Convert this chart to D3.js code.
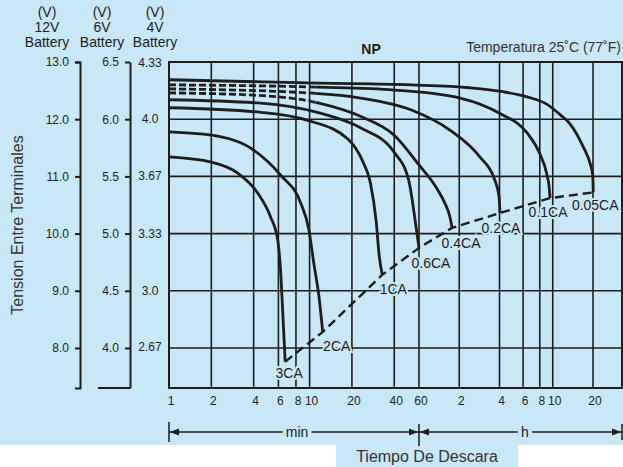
<!DOCTYPE html>
<html>
<head>
<meta charset="utf-8">
<script src="https://cdn.jsdelivr.net/npm/d3@7"></script>
<style>
  body { margin: 0; background: #fff; }
  svg { display: block; font-family: "Liberation Sans", Arial, sans-serif; }
</style>
</head>
<body>
<div id="chart"></div>
<script>
// discharge curves, time in minutes, voltage on the 12V scale
const t3CA = [1, 2, 3.07, 4.27, 5.28, 5.93, 6.2, 6.45, 6.7];
const v3CA = [11.34, 11.25, 11.06, 10.71, 10.29, 9.89, 9.4, 8.6, 7.76];
const t2CA = [1, 2, 4, 6.23, 8.66, 9.9, 10.7, 11.67, 12.4];
const v2CA = [11.78, 11.72, 11.46, 11.02, 10.53, 10.06, 9.49, 8.89, 8.28];
const t1CA = [1, 4.5, 9.7, 18.8, 24, 27, 29.8, 31.3, 32.9];
const v1CA = [12.2, 12.12, 11.98, 11.65, 11.25, 10.9, 10.2, 9.6, 9.28];
const t06CA = [1, 4.5, 11.7, 23, 40, 50.6, 57.6, 60];
const v06CA = [12.34, 12.28, 12.11, 11.85, 11.42, 10.94, 10.06, 9.75];
const t04CA = [1, 4, 11.7, 23, 40, 60, 82, 95, 102, 106];
const v04CA = [12.46, 12.42, 12.28, 12.05, 11.72, 11.2, 10.78, 10.5, 10.3, 10.1];
const t02CA = [1, 9.7, 23, 53, 102, 171, 220, 238, 242];
const v02CA = [12.53, 12.46, 12.37, 12.16, 11.81, 11.34, 10.95, 10.65, 10.36];
const t01CA = [1, 11.5, 40, 122, 242, 386, 480, 540, 565, 573];
const v01CA = [12.6, 12.56, 12.51, 12.37, 12.1, 11.76, 11.4, 11.05, 10.8, 10.62];
const t005CA = [1, 11.5, 53, 144, 255, 386, 544, 681, 807, 1012, 1150, 1195, 1205];
const v005CA = [12.69, 12.63, 12.6, 12.55, 12.48, 12.39, 12.26, 12.08, 11.92, 11.52, 11.2, 11.02, 10.72];

const rateNames = ["3CA", "2CA", "1CA", "0.6CA", "0.4CA", "0.2CA", "0.1CA", "0.05CA"];
const dashedStart = [false, false, false, false, true, true, true, false];

const v12Ticks = [13, 12, 11, 10, 9, 8];
const v6Ticks = [6.5, 6, 5.5, 5, 4.5, 4];
const v4Labels = ["4.33", "4.0", "3.67", "3.33", "3.0", "2.67"];
const gridV = [12, 11, 10, 9, 8];
const timeTicks = [1, 2, 4, 6, 8, 10, 20, 40, 60, 120, 240, 360, 480, 600, 1200];
const timeLabels = ["1", "2", "4", "6", "8", "10", "20", "40", "60", "2", "4", "6", "8", "10", "20"];
const batteries = ["12V", "6V", "4V"];

const width = 623, height = 467;
const bg = "#c8e8f8", ink = "#1d1d1b", grey = "#333";

const svg = d3.select("#chart").append("svg")
  .attr("width", width).attr("height", height);

svg.append("rect").attr("width", width).attr("height", 445).attr("fill", bg);
svg.append("rect").attr("x", 336).attr("y", 445).attr("width", 182).attr("height", 22).attr("fill", bg);

const x = d3.scaleLog().domain([1, 60, 1200]).range([169, 419, 593]);
const y = d3.scaleLinear().domain([7.3, 13]).range([388, 62]);
const y6 = d3.scaleLinear().domain([7.3 / 2, 6.5]).range([388, 62]);
const plotRight = 622;

// grid
const grid = svg.append("g").attr("stroke", ink).attr("stroke-width", 1.6);
grid.selectAll(".gv").data(timeTicks).join("line")
  .attr("x1", d => x(d)).attr("x2", d => x(d))
  .attr("y1", y(13)).attr("y2", y(7.3));
grid.selectAll(".gh").data(gridV).join("line")
  .attr("x1", x(1)).attr("x2", plotRight)
  .attr("y1", d => y(d)).attr("y2", d => y(d));
svg.append("rect")
  .attr("x", x(1)).attr("y", y(13))
  .attr("width", plotRight - x(1)).attr("height", y(7.3) - y(13))
  .attr("fill", "none").attr("stroke", ink).attr("stroke-width", 2);

// left axes
function styleAxis(g) {
  g.select(".domain").attr("stroke", ink).attr("stroke-width", 2);
  g.selectAll(".tick line").attr("stroke", ink).attr("stroke-width", 2);
  g.selectAll(".tick text").attr("fill", ink).attr("font-size", 12)
    .attr("font-family", "Liberation Sans, Arial, sans-serif");
}
svg.append("g").attr("transform", "translate(80,0)")
  .call(d3.axisLeft(y).tickValues(v12Ticks).tickFormat(d3.format(".1f"))
    .tickSize(5).tickSizeOuter(5).tickPadding(6))
  .call(styleAxis);
svg.append("g").attr("transform", "translate(130,0)")
  .call(d3.axisLeft(y6).tickValues(v6Ticks).tickFormat(d3.format(".1f"))
    .tickSize(5).tickSizeOuter(0).tickPadding(6))
  .call(styleAxis);
svg.append("line").attr("x1", 98).attr("x2", 130)
  .attr("y1", y(7.3)).attr("y2", y(7.3))
  .attr("stroke", ink).attr("stroke-width", 2);

svg.append("g").selectAll("text").data(v4Labels).join("text")
  .attr("x", 150).attr("y", d => y(+d * 3)).attr("dy", "0.34em")
  .attr("text-anchor", "middle").attr("font-size", 12).attr("fill", ink)
  .text(d => d);

// headers
const hx = [47, 102, 155];
const head = svg.append("g").attr("font-size", 14).attr("fill", ink).attr("text-anchor", "middle");
batteries.forEach((b, i) => {
  head.append("text").attr("x", hx[i]).attr("y", 17).text("(V)");
  head.append("text").attr("x", hx[i]).attr("y", 32).text(b);
  head.append("text").attr("x", hx[i]).attr("y", 47).text("Battery");
});

svg.append("text").attr("transform", "translate(23,225) rotate(-90)")
  .attr("text-anchor", "middle").attr("font-size", 16).attr("fill", grey)
  .text("Tension Entre Terminales");

svg.append("text").attr("x", 371).attr("y", 54).attr("text-anchor", "middle")
  .attr("font-size", 14).attr("font-weight", "bold").attr("fill", ink).text("NP");
svg.append("text").attr("x", 621).attr("y", 52).attr("text-anchor", "end")
  .attr("font-size", 14).attr("fill", grey).text("Temperatura 25˚C (77˚F)");

// x tick labels
svg.append("g").selectAll("text").data(timeTicks).join("text")
  .attr("x", d => x(d) + 2).attr("y", 405)
  .attr("text-anchor", "middle").attr("font-size", 12).attr("fill", ink)
  .text((d, i) => timeLabels[i]);

// min / h span
const ay = 432;
const span = svg.append("g").attr("stroke", ink).attr("stroke-width", 1.5);
span.append("line").attr("x1", x(1)).attr("x2", plotRight).attr("y1", ay).attr("y2", ay);
span.append("line").attr("x1", x(1)).attr("x2", x(1)).attr("y1", ay - 10).attr("y2", ay + 10);
span.append("line").attr("x1", x(60)).attr("x2", x(60)).attr("y1", ay - 8).attr("y2", ay + 14);
span.append("line").attr("x1", plotRight).attr("x2", plotRight).attr("y1", ay - 8).attr("y2", ay + 8);
const arrows = [[x(1) + 1, -1], [x(60) - 1, 1], [x(60) + 1, -1], [plotRight - 1, 1]];
svg.append("g").selectAll("path").data(arrows).join("path")
  .attr("d", d => `M${d[0]},${ay}L${d[0] - d[1] * 9},${ay - 3.5}L${d[0] - d[1] * 9},${ay + 3.5}Z`)
  .attr("fill", ink);
const spanText = svg.append("g").attr("font-size", 14).attr("fill", ink)
  .attr("text-anchor", "middle").attr("stroke", bg).attr("stroke-width", 8)
  .attr("paint-order", "stroke");
spanText.append("text").attr("x", 297).attr("y", ay + 5).text("min");
spanText.append("text").attr("x", 525).attr("y", ay + 5).text("h");

svg.append("text").attr("x", 427).attr("y", 462).attr("text-anchor", "middle")
  .attr("font-size", 16).attr("fill", grey).text("Tiempo De Descara");

// curves
const times = [t3CA, t2CA, t1CA, t06CA, t04CA, t02CA, t01CA, t005CA];
const volts = [v3CA, v2CA, v1CA, v06CA, v04CA, v02CA, v01CA, v005CA];
const curves = rateNames.map((name, i) => ({
  name,
  dashed: dashedStart[i],
  pts: times[i].map((t, j) => ({ t, v: volts[i][j] }))
}));

const defs = svg.append("defs");
const split = x(11);
defs.append("clipPath").attr("id", "clipDash").append("rect")
  .attr("x", 0).attr("y", 0).attr("width", split).attr("height", height);
defs.append("clipPath").attr("id", "clipSolid").append("rect")
  .attr("x", split).attr("y", 0).attr("width", width - split).attr("height", height);

const line = d3.line().x(d => x(d.t)).y(d => y(d.v)).curve(d3.curveMonotoneX);
const cg = svg.append("g").attr("fill", "none").attr("stroke", ink)
  .attr("stroke-width", 2.8).attr("stroke-linejoin", "round");
curves.forEach(c => {
  if (c.dashed) {
    cg.append("path").attr("d", line(c.pts)).attr("clip-path", "url(#clipDash)")
      .attr("stroke-dasharray", "7,3");
    cg.append("path").attr("d", line(c.pts)).attr("clip-path", "url(#clipSolid)");
  } else {
    cg.append("path").attr("d", line(c.pts));
  }
});

// cut-off line through curve ends
const ends = curves.map(c => c.pts[c.pts.length - 1]);
svg.append("path")
  .attr("d", d3.line().x(d => x(d.t)).y(d => y(d.v))(ends))
  .attr("fill", "none").attr("stroke", ink).attr("stroke-width", 2.4)
  .attr("stroke-dasharray", "9,5");

const labelDx = [4, 14, 11, 12, 9, 1, -2, 2];
const labelDy = [16, 19, 19, 20, 20, 20, 19, 18];
svg.append("g").attr("font-size", 14).attr("fill", ink).attr("text-anchor", "middle")
  .attr("stroke", bg).attr("stroke-width", 4).attr("paint-order", "stroke")
  .selectAll("text").data(ends).join("text")
  .attr("x", (d, i) => x(d.t) + labelDx[i])
  .attr("y", (d, i) => y(d.v) + labelDy[i])
  .text((d, i) => rateNames[i]);
</script>
</body>
</html>
